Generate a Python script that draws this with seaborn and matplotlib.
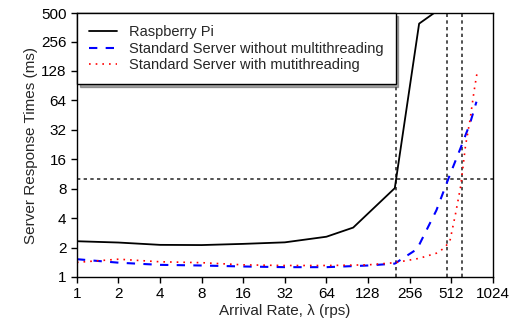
import numpy as np
import pandas as pd
import matplotlib
matplotlib.use("Agg")
import matplotlib.pyplot as plt
import seaborn as sns

# data
pi_rate = [1, 2, 4, 8, 16, 32, 64, 100, 200, 300, 400]
pi_resp = [2.32, 2.25, 2.13, 2.12, 2.18, 2.26, 2.58, 3.2, 8.1, 390, 520]

nomt_rate = [1, 2, 4, 8, 16, 32, 64, 128, 200, 290, 400, 500, 600, 700, 780]
nomt_resp = [1.52, 1.4, 1.33, 1.31, 1.28, 1.26, 1.26, 1.31, 1.37, 1.93, 4.8, 11, 21, 37, 62]

mt_rate = [1, 2, 4, 8, 16, 32, 64, 128, 200, 300, 400, 450, 500, 550, 600, 650, 700, 750, 790]
mt_resp = [1.41, 1.52, 1.43, 1.4, 1.33, 1.31, 1.31, 1.33, 1.4, 1.55, 1.75, 1.95, 2.3, 4.4, 8.5, 22, 40, 80, 125]

series_names = ["Raspberry Pi",
                "Standard Server without multithreading",
                "Standard Server with mutithreading"]

x_ticks = [1, 2, 4, 8, 16, 32, 64, 128, 256, 512, 1024]
y_ticks = [1, 2, 4, 8, 16, 32, 64, 128, 256, 500]
v_marks = [203, 480, 618]   # capacity markers
h_mark = 10                 # response-time threshold (ms)

sns.set_style("ticks")
plt.rcParams['font.family'] = ['Liberation Sans', 'DejaVu Sans']

fig = plt.figure(figsize=(5.16, 3.27), dpi=100)
ax = fig.add_axes([0.149, 0.153, 0.806, 0.807])

sns.lineplot(x=pi_rate, y=pi_resp, ax=ax, color='black', lw=1.3, label=series_names[0])
sns.lineplot(x=nomt_rate, y=nomt_resp, ax=ax, color='blue', lw=1.5,
             linestyle=(0, (4, 4)), label=series_names[1])
sns.lineplot(x=mt_rate, y=mt_resp, ax=ax, color='red', lw=1.2,
             linestyle=(0, (1, 3)), label=series_names[2])

for v in v_marks:
    ax.axvline(v, color='#333333', lw=1.2, linestyle=(0, (2, 2)), zorder=1)
ax.axhline(h_mark, color='#333333', lw=1.2, linestyle=(0, (2, 2)), zorder=1)

ax.set_xscale('log', base=2)
ax.set_yscale('log', base=2)
ax.set_xlim(1, 1024)
ax.set_ylim(1, 500)
ax.set_xticks(x_ticks)
ax.set_xticklabels([str(t) for t in x_ticks])
ax.set_yticks(y_ticks)
ax.set_yticklabels([str(t) for t in y_ticks])
ax.minorticks_off()
ax.tick_params(labelsize=11, length=4, width=1, color='black', labelcolor='black')

for s in ax.spines.values():
    s.set_color('black')
    s.set_linewidth(1)

ax.set_xlabel("Arrival Rate, λ (rps)", fontsize=11, labelpad=2)
ax.set_ylabel("Server Response Times (ms)", fontsize=11, labelpad=2)

leg = ax.legend(loc='upper left', fontsize=10.5, frameon=True, fancybox=False,
                shadow=True, edgecolor='black', borderaxespad=0,
                handlelength=1.9, labelspacing=0.15, borderpad=0.85,
                framealpha=1)
leg.get_frame().set_linewidth(1)

fig.savefig('out.png', dpi=100)
